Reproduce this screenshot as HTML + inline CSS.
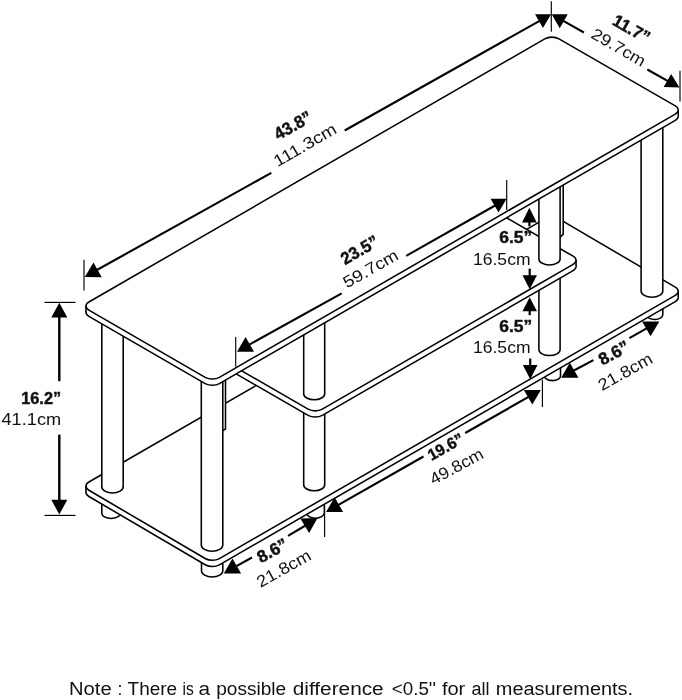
<!DOCTYPE html>
<html><head><meta charset="utf-8"><title>Dimensions</title>
<style>html,body{margin:0;padding:0;background:#fff}svg{display:block;will-change:transform}</style></head>
<body>
<svg width="682" height="700" viewBox="0 0 682 700" font-family="'Liberation Sans', sans-serif" fill="#111">
<path d="M101.80 500.00 L101.80 513.13 A9.30 5.37 0 0 0 120.40 513.13 L120.40 500.00" fill="#fff" stroke="#000" stroke-width="1.55"/>
<path d="M201.50 560.00 L201.50 570.85 A10.65 6.15 0 0 0 222.80 570.85 L222.80 560.00" fill="#fff" stroke="#000" stroke-width="1.55"/>
<path d="M306.50 500.00 L306.50 513.06 A8.90 5.14 0 0 0 324.30 513.06 L324.30 500.00" fill="#fff" stroke="#000" stroke-width="1.55"/>
<path d="M544.40 360.00 L544.40 375.96 A8.05 4.64 0 0 0 560.50 375.96 L560.50 360.00" fill="#fff" stroke="#000" stroke-width="1.55"/>
<path d="M646.60 300.00 L646.60 314.83 A8.10 4.67 0 0 0 662.80 314.83 L662.80 300.00" fill="#fff" stroke="#000" stroke-width="1.55"/>
<path d="M88.90 496.47 C84.98 494.17 84.98 490.46 88.90 488.20 L544.78 225.00 C548.70 222.74 555.06 222.77 558.98 225.07 L675.28 293.33 C679.20 295.63 679.20 299.34 675.28 301.60 L219.40 564.80 C215.48 567.06 209.12 567.03 205.20 564.73 Z" fill="#fff" stroke="#000" stroke-width="1.55" stroke-linejoin="round"/>
<path d="M85.96 486.10 L85.96 492.30 L678.22 297.50 L678.22 291.30 Z" fill="#fff"/>
<path d="M85.96 486.10 v6.20 M678.22 291.30 v6.20" stroke="#000" stroke-width="1.55" fill="none"/>
<path d="M88.90 490.27 C84.98 487.97 84.98 484.26 88.90 482.00 L544.78 218.80 C548.70 216.54 555.06 216.57 558.98 218.87 L675.28 287.13 C679.20 289.43 679.20 293.14 675.28 295.40 L219.40 558.60 C215.48 560.86 209.12 560.83 205.20 558.53 Z" fill="#fff" stroke="#000" stroke-width="1.55" stroke-linejoin="round"/>
<path d="M563.2 150 L563.2 234.1 L560.5 237 L545 237 L545 150 Z" fill="#fff" stroke="none"/><path d="M563.2 150 L563.2 234.1 L560.5 237" fill="none" stroke="#000" stroke-width="1.55"/>
<path d="M225.5 380 L225.5 429 L222.8 430.6 L210 430.6 L210 380 Z" fill="#fff" stroke="none"/><path d="M225.5 380 L225.5 429 L222.8 430.6" fill="none" stroke="#000" stroke-width="1.55"/>
<path d="M101.80 320.00 L101.80 486.83 A10.70 6.17 0 0 0 123.20 486.83 L123.20 320.00" fill="#fff" stroke="#000" stroke-width="1.55"/>
<path d="M641.10 100.00 L641.10 290.94 A10.85 6.26 0 0 0 662.80 290.94 L662.80 100.00" fill="#fff" stroke="#000" stroke-width="1.55"/>
<path d="M303.70 405.00 L303.70 484.74 A10.50 6.06 0 0 0 324.70 484.74 L324.70 405.00" fill="#fff" stroke="#000" stroke-width="1.55"/>
<path d="M538.90 255.00 L538.90 349.48 A10.60 6.12 0 0 0 560.10 349.48 L560.10 255.00" fill="#fff" stroke="#000" stroke-width="1.55"/>
<path d="M235.70 373.60 C231.78 371.34 231.78 367.66 235.70 365.40 L486.50 220.60 C490.42 218.34 496.78 218.34 500.70 220.60 L573.10 262.40 C577.02 264.66 577.02 268.34 573.10 270.60 L322.30 415.40 C318.38 417.66 312.02 417.66 308.10 415.40 Z" fill="#fff" stroke="#000" stroke-width="1.55" stroke-linejoin="round"/>
<path d="M232.76 363.30 L232.76 369.50 L576.04 266.50 L576.04 260.30 Z" fill="#fff"/>
<path d="M232.76 363.30 v6.20 M576.04 260.30 v6.20" stroke="#000" stroke-width="1.55" fill="none"/>
<path d="M235.70 367.40 C231.78 365.14 231.78 361.46 235.70 359.20 L486.50 214.40 C490.42 212.14 496.78 212.14 500.70 214.40 L573.10 256.20 C577.02 258.46 577.02 262.14 573.10 264.40 L322.30 409.20 C318.38 411.46 312.02 411.46 308.10 409.20 Z" fill="#fff" stroke="#000" stroke-width="1.55" stroke-linejoin="round"/>
<path d="M303.70 300.00 L303.70 393.74 A10.50 6.06 0 0 0 324.70 393.74 L324.70 300.00" fill="#fff" stroke="#000" stroke-width="1.55"/>
<path d="M538.90 150.00 L538.90 258.88 A10.60 6.12 0 0 0 560.10 258.88 L560.10 150.00" fill="#fff" stroke="#000" stroke-width="1.55"/>
<path d="M201.30 380.00 L201.30 545.00 A10.75 6.20 0 0 0 222.80 545.00 L222.80 380.00" fill="#fff" stroke="#000" stroke-width="1.55"/>
<path d="M88.90 316.40 C84.98 314.14 84.98 310.46 88.90 308.20 L544.78 45.00 C548.70 42.74 555.06 42.74 558.98 45.00 L675.29 112.15 C679.21 114.41 679.21 118.09 675.29 120.35 L219.41 383.55 C215.49 385.81 209.13 385.81 205.21 383.55 Z" fill="#fff" stroke="#000" stroke-width="1.55" stroke-linejoin="round"/>
<path d="M85.96 306.10 L85.96 312.30 L678.23 116.25 L678.23 110.05 Z" fill="#fff"/>
<path d="M85.96 306.10 v6.20 M678.23 110.05 v6.20" stroke="#000" stroke-width="1.55" fill="none"/>
<path d="M88.90 310.20 C84.98 307.94 84.98 304.26 88.90 302.00 L544.78 38.80 C548.70 36.54 555.06 36.54 558.98 38.80 L675.29 105.95 C679.21 108.21 679.21 111.89 675.29 114.15 L219.41 377.35 C215.49 379.61 209.13 379.61 205.21 377.35 Z" fill="#fff" stroke="#000" stroke-width="1.55" stroke-linejoin="round"/>
<path d="M84.00 259.70 L84.00 290.50" stroke="#000" stroke-width="1.15" fill="none"/>
<path d="M551.30 1.20 L551.30 31.70" stroke="#000" stroke-width="1.15" fill="none"/>
<path d="M680.00 70.80 L680.00 101.60" stroke="#000" stroke-width="1.15" fill="none"/>
<path d="M235.70 336.90 L235.70 366.80" stroke="#000" stroke-width="1.15" fill="none"/>
<path d="M506.70 180.00 L506.70 210.00" stroke="#000" stroke-width="1.15" fill="none"/>
<path d="M44.50 302.40 L75.50 302.40" stroke="#000" stroke-width="1.15" fill="none"/>
<path d="M44.50 515.40 L75.50 515.40" stroke="#000" stroke-width="1.15" fill="none"/>
<path d="M324.60 505.50 L324.60 536.90" stroke="#000" stroke-width="1.15" fill="none"/>
<path d="M542.40 379.70 L542.40 407.00" stroke="#000" stroke-width="1.15" fill="none"/>
<path d="M84.80 277.10 L93.49 262.51 L101.78 277.35 Z" fill="#000"/>
<path d="M96.00 270.50 L271.30 172.90" stroke="#000" stroke-width="2.1" fill="none"/>
<path d="M344.70 130.50 L540.50 20.30" stroke="#000" stroke-width="2.1" fill="none"/>
<path d="M551.10 14.30 L542.92 28.09 L535.06 14.15 Z" fill="#000"/>
<text transform="translate(278.3 140.6) rotate(-29.5)" text-anchor="start" font-size="17.5" font-weight="700" stroke="#111" stroke-width="0.45" textLength="40.3" lengthAdjust="spacingAndGlyphs">43.8&#8221;</text>
<text transform="translate(277.5 167.3) rotate(-30.0)" text-anchor="start" font-size="16.5" textLength="69.6" lengthAdjust="spacingAndGlyphs">111.3cm</text>
<path d="M551.70 14.30 L567.74 14.32 L559.74 28.18 Z" fill="#000"/>
<path d="M562.00 20.20 L583.90 32.50" stroke="#000" stroke-width="2.1" fill="none"/>
<path d="M647.30 69.50 L668.00 81.20" stroke="#000" stroke-width="2.1" fill="none"/>
<path d="M679.50 87.50 L663.63 87.00 L671.13 74.00 Z" fill="#000"/>
<text transform="translate(611.2 24.0) rotate(29.5)" text-anchor="start" font-size="17.0" font-weight="700" stroke="#111" stroke-width="0.45" textLength="40.0" lengthAdjust="spacingAndGlyphs">11.7&#8221;</text>
<text transform="translate(590.0 37.2) rotate(30.0)" text-anchor="start" font-size="16.3" textLength="59.6" lengthAdjust="spacingAndGlyphs">29.7cm</text>
<path d="M237.00 351.70 L245.61 337.06 L253.98 351.86 Z" fill="#000"/>
<path d="M248.00 345.30 L341.70 293.40" stroke="#000" stroke-width="2.1" fill="none"/>
<path d="M406.20 255.80 L496.00 205.00" stroke="#000" stroke-width="2.1" fill="none"/>
<path d="M506.60 198.70 L498.56 212.58 L490.56 198.72 Z" fill="#000"/>
<text transform="translate(345.0 265.2) rotate(-30.0)" text-anchor="start" font-size="17.3" font-weight="700" stroke="#111" stroke-width="0.45" textLength="40.5" lengthAdjust="spacingAndGlyphs">23.5&#8221;</text>
<text transform="translate(347.0 288.6) rotate(-29.7)" text-anchor="start" font-size="16.5" textLength="60.7" lengthAdjust="spacingAndGlyphs">59.7cm</text>
<path d="M59.30 302.70 L67.30 317.40 L51.30 317.40 Z" fill="#000"/>
<path d="M59.30 316.00 L59.30 381.20" stroke="#000" stroke-width="2.4" fill="none"/>
<path d="M59.30 434.60 L59.30 501.00" stroke="#000" stroke-width="2.4" fill="none"/>
<path d="M59.30 514.50 L51.30 499.80 L67.30 499.80 Z" fill="#000"/>
<text transform="translate(61.1 403.9) rotate(0.0)" text-anchor="end" font-size="16.9" font-weight="700" stroke="#111" stroke-width="0.45" textLength="39.9" lengthAdjust="spacingAndGlyphs">16.2&#8221;</text>
<text transform="translate(61.1 424.9) rotate(0.0)" text-anchor="end" font-size="16.5" textLength="59.6" lengthAdjust="spacingAndGlyphs">41.1cm</text>
<path d="M529.40 207.70 L536.75 222.50 L522.05 222.50 Z" fill="#000"/>
<path d="M529.40 222.00 L529.40 226.20" stroke="#000" stroke-width="2.2" fill="none"/>
<path d="M529.70 268.60 L529.70 277.00" stroke="#000" stroke-width="2.2" fill="none"/>
<path d="M529.70 289.30 L522.45 275.30 L536.95 275.30 Z" fill="#000"/>
<text transform="translate(532.3 243.3) rotate(0.0)" text-anchor="end" font-size="17.0" font-weight="700" stroke="#111" stroke-width="0.45" textLength="33.0" lengthAdjust="spacingAndGlyphs">6.5&#8221;</text>
<text transform="translate(530.5 265.0) rotate(0.0)" text-anchor="end" font-size="16.5" textLength="57.5" lengthAdjust="spacingAndGlyphs">16.5cm</text>
<path d="M529.70 297.30 L536.95 311.30 L522.45 311.30 Z" fill="#000"/>
<path d="M529.70 310.00 L529.70 315.20" stroke="#000" stroke-width="2.2" fill="none"/>
<path d="M530.20 358.50 L530.20 367.00" stroke="#000" stroke-width="2.2" fill="none"/>
<path d="M530.20 379.20 L522.85 365.00 L537.55 365.00 Z" fill="#000"/>
<text transform="translate(532.3 331.6) rotate(0.0)" text-anchor="end" font-size="17.0" font-weight="700" stroke="#111" stroke-width="0.45" textLength="33.0" lengthAdjust="spacingAndGlyphs">6.5&#8221;</text>
<text transform="translate(530.5 353.2) rotate(0.0)" text-anchor="end" font-size="16.5" textLength="57.5" lengthAdjust="spacingAndGlyphs">16.5cm</text>
<path d="M326.10 512.00 L334.58 497.29 L343.08 512.01 Z" fill="#000"/>
<path d="M338.00 505.20 L423.50 456.50" stroke="#000" stroke-width="2.1" fill="none"/>
<path d="M465.20 433.00 L529.00 396.60" stroke="#000" stroke-width="2.1" fill="none"/>
<path d="M540.80 389.90 L532.32 404.61 L523.82 389.89 Z" fill="#000"/>
<text transform="translate(431.5 460.9) rotate(-29.2)" text-anchor="start" font-size="16.0" font-weight="700" stroke="#111" stroke-width="0.45" textLength="38.4" lengthAdjust="spacingAndGlyphs">19.6&#8221;</text>
<text transform="translate(433.5 485.3) rotate(-28.5)" text-anchor="start" font-size="16.5" textLength="58.4" lengthAdjust="spacingAndGlyphs">49.8cm</text>
<path d="M223.80 573.40 L232.47 558.41 L241.12 573.39 Z" fill="#000"/>
<path d="M235.00 566.80 L252.00 557.50" stroke="#000" stroke-width="2.1" fill="none"/>
<path d="M288.00 535.80 L305.50 525.50" stroke="#000" stroke-width="2.1" fill="none"/>
<path d="M317.60 518.00 L309.12 533.01 L300.36 518.44 Z" fill="#000"/>
<text transform="translate(261.0 563.4) rotate(-28.8)" text-anchor="start" font-size="17.1" font-weight="700" stroke="#111" stroke-width="0.45" textLength="32.3" lengthAdjust="spacingAndGlyphs">8.6&#8221;</text>
<text transform="translate(260.5 587.9) rotate(-29.2)" text-anchor="start" font-size="16.5" textLength="59.5" lengthAdjust="spacingAndGlyphs">21.8cm</text>
<path d="M561.15 377.70 L569.82 362.71 L578.47 377.69 Z" fill="#000"/>
<path d="M572.50 371.30 L593.40 360.10" stroke="#000" stroke-width="2.1" fill="none"/>
<path d="M629.40 338.20 L647.50 327.80" stroke="#000" stroke-width="2.1" fill="none"/>
<path d="M659.30 321.40 L650.56 336.26 L642.06 321.54 Z" fill="#000"/>
<text transform="translate(602.4 365.8) rotate(-28.8)" text-anchor="start" font-size="17.1" font-weight="700" stroke="#111" stroke-width="0.45" textLength="32.3" lengthAdjust="spacingAndGlyphs">8.6&#8221;</text>
<text transform="translate(601.9 391.2) rotate(-29.2)" text-anchor="start" font-size="16.5" textLength="59.5" lengthAdjust="spacingAndGlyphs">21.8cm</text>
<text y="695" font-size="17.6"><tspan x="69.0" textLength="42.6" lengthAdjust="spacingAndGlyphs">Note</tspan> <tspan x="117.6">:</tspan> <tspan x="127.6" textLength="49.5" lengthAdjust="spacingAndGlyphs">There</tspan> <tspan x="182.6" textLength="11.2" lengthAdjust="spacingAndGlyphs">is</tspan> <tspan x="198.6" textLength="11.6" lengthAdjust="spacingAndGlyphs">a</tspan> <tspan x="216.2" textLength="70.0" lengthAdjust="spacingAndGlyphs">possible</tspan> <tspan x="292.7" textLength="91.0" lengthAdjust="spacingAndGlyphs">difference</tspan> <tspan x="391.8" textLength="44.2" lengthAdjust="spacingAndGlyphs">&lt;0.5&#39;&#39;</tspan> <tspan x="441.9" textLength="23.4" lengthAdjust="spacingAndGlyphs">for</tspan> <tspan x="471.6" textLength="18.0" lengthAdjust="spacingAndGlyphs">all</tspan> <tspan x="495.8" textLength="137.3" lengthAdjust="spacingAndGlyphs">measurements.</tspan></text>
</svg>
</body></html>
